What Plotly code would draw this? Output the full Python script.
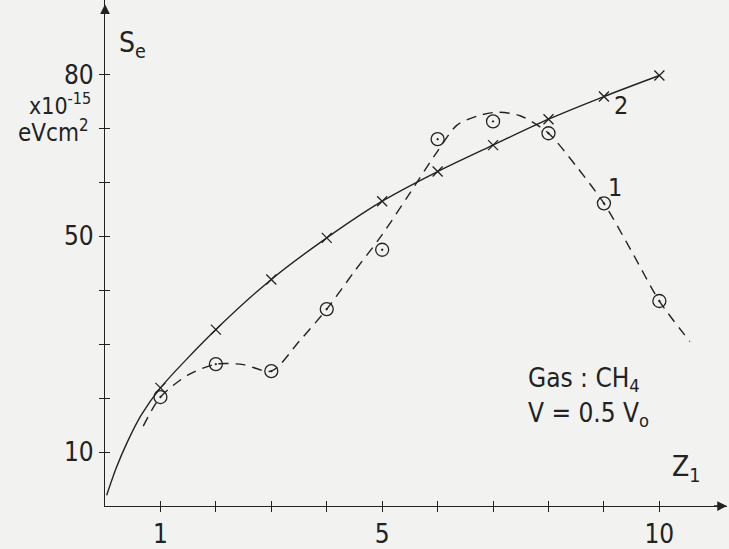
import plotly.graph_objects as go

# ---- data ----
z_points = [1, 2, 3, 4, 5, 6, 7, 8, 9, 10]
se_curve2_points = [21.9, 32.7, 42.0, 49.7, 56.5, 62.0, 66.9, 71.7, 75.9, 79.8]   # crosses
se_curve1_points = [20.2, 26.3, 25.0, 36.5, 47.5, 68.0, 71.3, 69.1, 56.1, 38.0]   # dotted circles

# smooth fitted curve 2 (solid)
z_curve2 = [0.03, 0.2, 0.4, 0.65, 1, 2, 3, 4, 5, 6, 7, 8, 9, 10]
se_curve2 = [2.0, 7.0, 11.8, 16.8, 21.9, 32.7, 42.0, 49.7, 56.5, 62.0, 66.9, 71.7, 75.9, 79.8]

# smooth fitted curve 1 (dashed)
z_curve1 = [0.69, 1.0, 1.5, 2.0, 2.5, 3.0, 3.5, 4.0, 4.5, 5.0, 5.5, 6.0, 6.35, 6.75, 7.1, 7.5, 8.0, 8.5, 9.0, 9.5, 10.0, 10.55]
se_curve1 = [14.8, 20.2, 24.3, 26.3, 26.2, 25.0, 30.5, 36.5, 43.5, 50.3, 58.0, 65.8, 70.6, 72.4, 73.0, 72.3, 69.1, 63.0, 56.1, 47.2, 38.0, 30.5]

x_tick_all = [1, 2, 3, 4, 5, 6, 7, 8, 9, 10]
x_label_vals = [1, 5, 10]
x_label_text = ["1", "5", "10"]
y_tick_all = [10, 20, 30, 40, 50, 60, 70, 80]
y_label_vals = [10, 50, 80]
y_label_text = ["10", "50", "80"]

X_MAX = 11.22
Y_MAX = 93.8

INK = "#222222"
BG = "#f2f2f1"
FONT = "DejaVu Sans Condensed, Liberation Sans Narrow, DejaVu Sans, sans-serif"

PLOT_W = 729 - 105 - 2
PLOT_H = 549 - 37

fig = go.Figure()

fig.add_trace(go.Scatter(x=z_curve2, y=se_curve2, mode="lines",
                         line=dict(color=INK, width=1.4, shape="spline", smoothing=0.8),
                         hoverinfo="skip", showlegend=False))
fig.add_trace(go.Scatter(x=z_curve1, y=se_curve1, mode="lines",
                         line=dict(color=INK, width=1.4, shape="spline", smoothing=0.8, dash="10px,7px"),
                         hoverinfo="skip", showlegend=False))
fig.add_trace(go.Scatter(x=z_points, y=se_curve2_points, mode="markers",
                         marker=dict(symbol="x-thin", size=10, line=dict(color=INK, width=1.3)),
                         showlegend=False))
fig.add_trace(go.Scatter(x=z_points, y=se_curve1_points, mode="markers",
                         marker=dict(symbol="circle-open-dot", size=13, color=INK,
                                     line=dict(color=INK, width=1.3)),
                         showlegend=False))
# invisible trace on overlay axes (gives ticks crossing the axis lines)
fig.add_trace(go.Scatter(x=[0], y=[0], xaxis="x2", yaxis="y2", mode="markers",
                         marker=dict(opacity=0), hoverinfo="skip", showlegend=False))

axis_common = dict(showgrid=False, zeroline=False, tickcolor=INK, tickwidth=1.2, ticklen=5,
                   fixedrange=True, tickfont=dict(family=FONT, size=26, color=INK))
minor_common = dict(ticks="outside", ticklen=5, tickwidth=1.2, tickcolor=INK, showgrid=False)

fig.update_layout(
    width=729, height=549,
    margin=dict(l=105, r=2, t=0, b=37),
    paper_bgcolor=BG, plot_bgcolor=BG,
    xaxis=dict(range=[0, X_MAX], tickvals=x_label_vals, ticktext=x_label_text, ticks="outside",
               minor=dict(tickmode="array", tickvals=x_tick_all, **minor_common),
               showline=True, linecolor=INK, linewidth=1.3, **axis_common),
    yaxis=dict(range=[0, Y_MAX], tickvals=y_label_vals, ticktext=y_label_text, ticks="outside",
               minor=dict(tickmode="array", tickvals=y_tick_all, **minor_common),
               showline=True, linecolor=INK, linewidth=1.3, **axis_common),
    xaxis2=dict(range=[0, X_MAX], overlaying="x", anchor="y2", tickvals=x_tick_all, ticks="inside",
                showticklabels=False, showline=False, **axis_common),
    yaxis2=dict(range=[0, Y_MAX], overlaying="y", anchor="x2", tickvals=y_tick_all, ticks="inside",
                showticklabels=False, showline=False, **axis_common),
)

annotations = [
    # axis arrows
    dict(x=X_MAX, y=0, xref="x", yref="y", ax=-16, ay=0, showarrow=True, text=" ",
         arrowhead=2, arrowsize=1.5, arrowwidth=1.3, arrowcolor=INK),
    dict(x=0, y=Y_MAX - 0.8, xref="x", yref="y", ax=0, ay=16, showarrow=True, text=" ",
         arrowhead=2, arrowsize=1.5, arrowwidth=1.3, arrowcolor=INK),
]


def label(text, x, y, size, xref="x", yref="y", xanchor="left"):
    annotations.append(dict(text=text, x=x, y=y, xref=xref, yref=yref, showarrow=False,
                            xanchor=xanchor, yanchor="middle",
                            font=dict(family=FONT, size=size, color=INK)))


label("S<sub>e</sub>", 0.22, 85.5, 28)
label("x10<sup>-15</sup>", -(105 - 93) / PLOT_W, (PLOT_H - 105) / PLOT_H, 23,
      xref="paper", yref="paper", xanchor="right")
label("eVcm<sup>2</sup>", -(105 - 91) / PLOT_W, (PLOT_H - 133) / PLOT_H, 24,
      xref="paper", yref="paper", xanchor="right")
label("Z<sub>1</sub>", 10.2, 7.0, 28)
label("2", 9.3, 74.3, 25, xanchor="center")
label("1", 9.2, 59.0, 25, xanchor="center")
label("Gas : CH<sub>4</sub>", 7.6, 23.4, 26)
label("V = 0.5 V<sub>o</sub>", 7.6, 17.0, 26)

fig.update_layout(annotations=annotations)
fig.write_html("out.html")
